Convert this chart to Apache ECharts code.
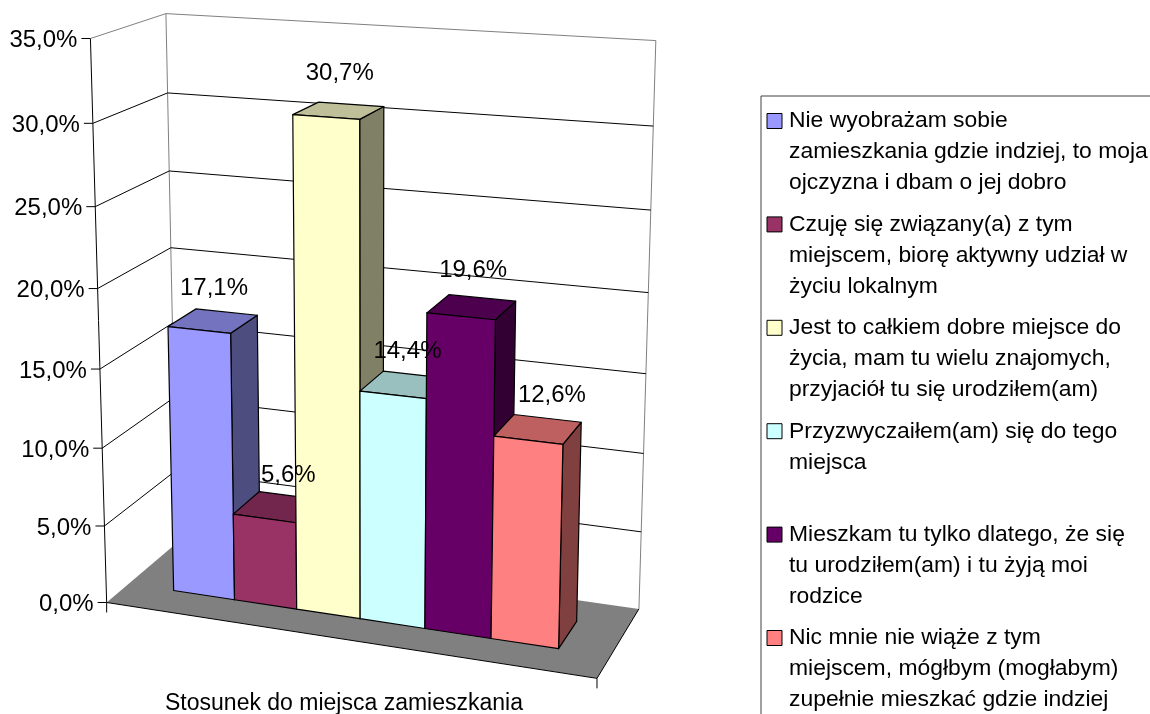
<!DOCTYPE html>
<html>

<head>
    <meta charset="UTF-8">
    <script type="text/javascript" src="https://cdn.jsdelivr.net/npm/echarts@6/dist/echarts.min.js"></script>
    <title>Stosunek do miejsca zamieszkania</title>
    <style>
        html, body { margin: 0; height: 714px; overflow: hidden; background: #fff; }
        /* wykres wiekszy niz okno: legenda jest uciete z prawej i od dolu jak w oryginale */
        #main { width: 1220px; height: 790px; }
    </style>
</head>

<body>
    <div id="main"></div>
    <script type="text/javascript">
    var categories = ['Stosunek do miejsca zamieszkania'];
    var seriesNames = [
        'Nie wyobrażam sobie\nzamieszkania gdzie indziej, to moja\nojczyzna i dbam o jej dobro',
        'Czuję się związany(a) z tym\nmiejscem, biorę aktywny udział w\nżyciu lokalnym',
        'Jest to całkiem dobre miejsce do\nżycia, mam tu wielu znajomych,\nprzyjaciół tu się urodziłem(am)',
        'Przyzwyczaiłem(am) się do tego\nmiejsca\n ',
        'Mieszkam tu tylko dlatego, że się\ntu urodziłem(am) i tu żyją moi\nrodzice',
        'Nic mnie nie wiąże z tym\nmiejscem, mógłbym (mogłabym)\nzupełnie mieszkać gdzie indziej'
    ];
    var seriesValues = [17.1, 5.6, 30.7, 14.4, 19.6, 12.6];
    var valueLabels = ['17,1%', '5,6%', '30,7%', '14,4%', '19,6%', '12,6%'];
    var yTicks = [0, 5, 10, 15, 20, 25, 30, 35];
    var yTickLabels = ['0,0%', '5,0%', '10,0%', '15,0%', '20,0%', '25,0%', '30,0%', '35,0%'];
    var barColors = ['#9999FF', '#993366', '#FFFFCC', '#CCFFFF', '#660066', '#FF8080'];
    var sideColors = ['#4D4D80', '#4D1A33', '#808066', '#668080', '#330033', '#804040'];
    var topColors = ['#7373BF', '#73264D', '#BFBF99', '#99BFBF', '#4D004D', '#BF6060'];
    var labelNudge = [[1, -34], [11, -33], [1, -39], [3, -35], [1.5, -39], [14, -36]];

    var FONT = 'Liberation Sans';
    var LEGEND_SIZE = 22.9;
    var LABEL_SIZE = 24;
    var GRID = { left: 106, top: 38, width: 476, height: 564 };
    // rzut perspektywiczny (u, t, d): u wzdluz osi kategorii, t wysokosc 0-1, d glebokosc
    var PX = [444.81658, -21.50915, 82.45604, 106.65541];
    var PY = [24.14474, -566.23071, -22.50664, 602.49];
    var PW = [-0.07626, -0.05839, 0.06844, 1];
    var BAR_FROM = 0.1, BAR_TO = 0.9, DEPTH_FRONT = 0.3, DEPTH_BACK = 0.7;

    function dot(m, u, t, d) {
        return m[0] * u + m[1] * t + m[2] * d + m[3];
    }

    function project(u, t, d) {
        var w = dot(PW, u, t, d);
        return [dot(PX, u, t, d) / w, dot(PY, u, t, d) / w];
    }

    // piksele siatki echarts -> wspolrzedne sceny
    function toT(py) {
        return (GRID.top + GRID.height - py) / GRID.height;
    }

    function toU(px) {
        return BAR_FROM + (BAR_TO - BAR_FROM) * (px - GRID.left) / GRID.width;
    }

    function line(a, b, color, width) {
        return {
            type: 'line',
            silent: true,
            shape: { x1: a[0], y1: a[1], x2: b[0], y2: b[1] },
            style: { stroke: color, lineWidth: width || 1 }
        };
    }

    function face(points, fill) {
        return {
            type: 'polygon',
            silent: true,
            shape: { points: points },
            style: { fill: fill, stroke: '#000', lineWidth: 1.2, lineJoin: 'round' }
        };
    }

    function label(text, x, y, align) {
        return {
            type: 'text',
            silent: true,
            z2: 50,
            style: {
                x: x, y: y + 2, text: text, fill: '#000',
                font: LABEL_SIZE + 'px "' + FONT + '"',
                align: align, verticalAlign: 'middle'
            }
        };
    }

    // sciany, podloga, siatka i podzialka osi Y
    function renderWalls(params, api) {
        var t = toT(api.coord([0, api.value(1)])[1]);
        var frontPt = project(0, t, 0), sidePt = project(0, t, 1), backPt = project(1, t, 1);
        var children = [];
        var grey = '#808080';
        if (params.dataIndex === 0) {
            var top = toT(api.coord([0, yTicks[yTicks.length - 1]])[1]);
            var a = project(0, 0, 0), b = project(1, 0, 0), c = project(1, 0, 1), d = project(0, 0, 1);
            children.push({
                type: 'polygon', silent: true,
                shape: { points: [a, b, c, d] },
                style: { fill: grey }
            });
            children.push(line(a, b, '#000'));
            children.push(line(b, c, '#000'));
            children.push(line(d, project(0, top, 1), grey));
            children.push(line(c, project(1, top, 1), grey));
            children.push(line(a, [a[0], a[1] + 10], '#000'));
            children.push(line(b, [b[0], b[1] + 10], '#000'));
            children.push(line(a, project(0, top, 0), '#000'));
        } else {
            var color = t > 0.999 ? grey : '#000';
            children.push(line(frontPt, sidePt, color));
            children.push(line(sidePt, backPt, color));
        }
        children.push(line([frontPt[0] - 9, frontPt[1]], frontPt, '#000'));
        children.push(label(yTickLabels[params.dataIndex], frontPt[0] - 13, frontPt[1], 'right'));
        return { type: 'group', children: children };
    }

    function makeBarRenderer(slot) {
        return function (params, api) {
            var pos = api.coord([api.value(0), api.value(1)]);
            var band = api.size([1, 0])[0];
            var slotWidth = band / seriesValues.length;
            var u0 = toU(pos[0] - band / 2 + slotWidth * slot);
            var u1 = toU(pos[0] - band / 2 + slotWidth * (slot + 1));
            var t = toT(pos[1]);
            var f = DEPTH_FRONT, k = DEPTH_BACK;
            var center = project((u0 + u1) / 2, t, (f + k) / 2);
            return {
                type: 'group',
                children: [
                    face([project(u1, 0, f), project(u1, 0, k), project(u1, t, k), project(u1, t, f)], sideColors[slot]),
                    face([project(u0, t, f), project(u1, t, f), project(u1, t, k), project(u0, t, k)], topColors[slot]),
                    face([project(u0, 0, f), project(u1, 0, f), project(u1, t, f), project(u0, t, f)], barColors[slot]),
                    label(valueLabels[slot], center[0] + labelNudge[slot][0], center[1] + labelNudge[slot][1], 'center')
                ]
            };
        };
    }

    var series = [{
        type: 'custom',
        name: 'siatka',
        z: 2,
        renderItem: renderWalls,
        encode: { x: 0, y: 1 },
        data: yTicks.map(function (v) { return [0, v]; })
    }];
    seriesNames.forEach(function (name, i) {
        series.push({
            type: 'custom',
            name: name,
            z: 2,
            itemStyle: { color: barColors[i] },
            renderItem: makeBarRenderer(i),
            encode: { x: 0, y: 1 },
            data: [[0, seriesValues[i]]]
        });
    });

    var chart = echarts.init(document.getElementById('main'));
    chart.setOption({
        animation: false,
        backgroundColor: '#fff',
        grid: GRID,
        xAxis: {
            type: 'category',
            data: categories,
            axisLine: { show: false },
            axisTick: { show: false },
            axisLabel: { margin: 90, color: '#000', fontFamily: FONT, fontSize: 23 }
        },
        yAxis: { type: 'value', min: 0, max: 35, interval: 5, show: false },
        legend: {
            data: seriesNames,
            orient: 'vertical',
            left: 761,
            top: 96,
            padding: [9, 14, 40, 5.5],
            itemGap: 9.4,
            itemWidth: 17,
            itemHeight: 93,
            icon: 'path://M0 0M0 8H15V23H0ZM17 93',
            selectedMode: false,
            borderColor: '#404040',
            borderWidth: 1,
            itemStyle: { borderColor: '#000', borderWidth: 1 },
            textStyle: { color: '#000', fontFamily: FONT, fontSize: LEGEND_SIZE, lineHeight: 31 }
        },
        series: series
    });
    </script>
</body>

</html>
